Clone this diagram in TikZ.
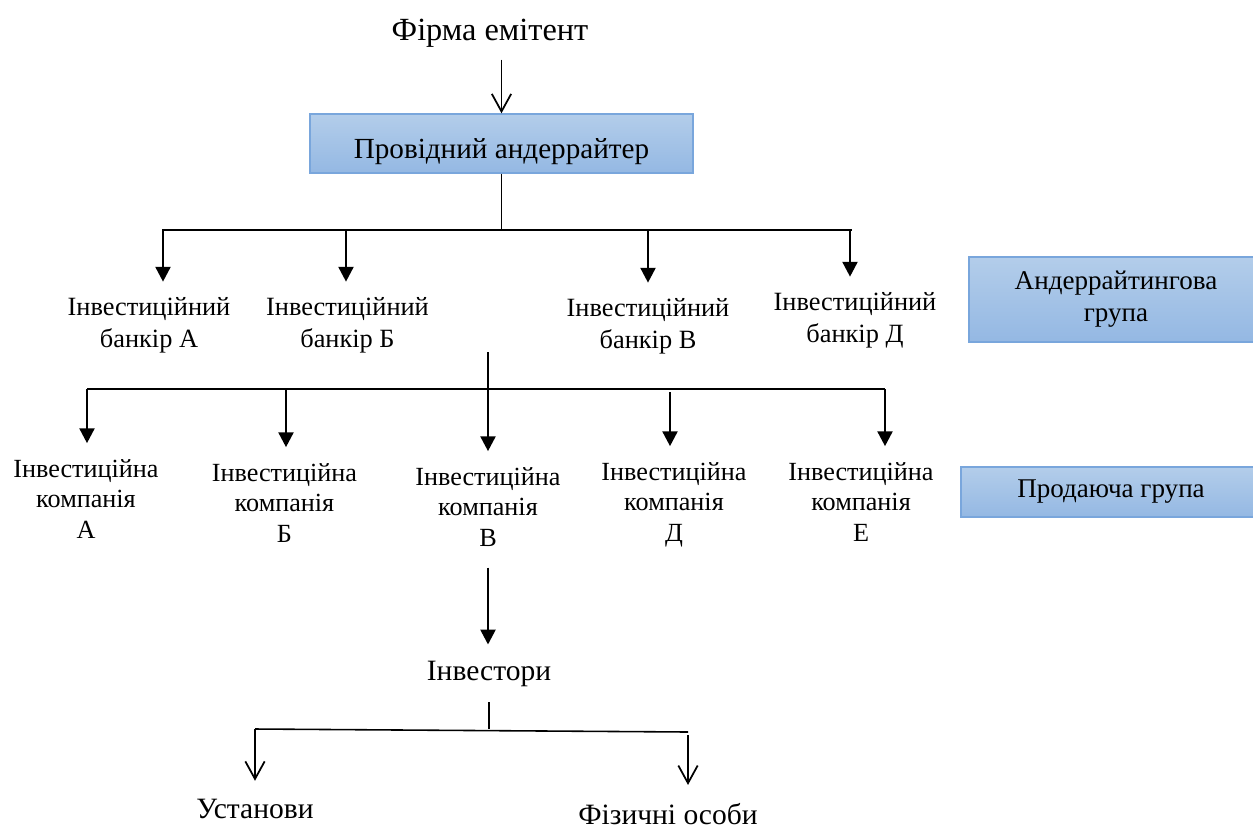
\documentclass[tikz,border=0pt]{standalone}
\usepackage{fontspec}
\setmainfont{Liberation Serif}
\usetikzlibrary{arrows.meta}
\definecolor{boxtop}{RGB}{179,205,234}
\definecolor{boxbottom}{RGB}{148,184,227}
\definecolor{boxline}{RGB}{121,166,220}

\begin{document}
\begin{tikzpicture}[x=0.2mm, y=-0.2mm, bluebox/.style={draw=boxline, line width=0.8pt, top color=boxtop, bottom color=boxbottom, inner sep=0pt, align=center, font=\fontsize{15.4}{18.1}\selectfont}, title/.style={anchor=base, inner sep=0pt, font=\fontsize{16.8}{20}\selectfont}, member/.style={anchor=north, inner sep=0pt, align=center, font=\fontsize{15}{18.1}\selectfont}, firm/.style={member, font=\fontsize{14.9}{17.3}\selectfont}, feed/.style={-{Triangle[length=8.5pt, width=8.5pt]}, line width=1.5pt, shorten >=9pt}, flow/.style={-{Straight Barb[length=10pt, width=11pt]}, line width=1pt}, bus/.style={line width=0.9pt}, stub/.style={line width=0.6pt}]

\useasboundingbox (0,0) rectangle (1253,829);

\node[title, font=\fontsize{18.4}{22}\selectfont] (emitent) at (490,40) {Фірма емітент};
\node[bluebox, minimum width=76.6mm, minimum height=11.8mm, text height=17.6pt, text depth=0pt, font=\fontsize{16.6}{20}\selectfont] (lead) at (501.5,143.5) {Провідний андеррайтер};
\node[bluebox, minimum width=58.8mm, minimum height=17mm] (uwgroup) at (1116,299.5) {Андеррайтингова\\група};
\node[bluebox, minimum width=60mm, minimum height=10mm] (sellgroup) at (1111,492) {Продаюча група};

\node[member] (bankA) at (149,297.5) {Інвестиційний\\банкір А};
\node[member] (bankB) at (347.5,297.5) {Інвестиційний\\банкір Б};
\node[member] (bankV) at (648,298.5) {Інвестиційний\\банкір В};
\node[member] (bankD) at (855,292.5) {Інвестиційний\\банкір Д};

\node[firm] (compA) at (86,459) {Інвестиційна\\компанія\\А};
\node[firm] (compB) at (284.5,463) {Інвестиційна\\компанія\\Б};
\node[firm] (compV) at (488,467) {Інвестиційна\\компанія\\В};
\node[firm] (compD) at (674,462) {Інвестиційна\\компанія\\Д};
\node[firm] (compE) at (861,462) {Інвестиційна\\компанія\\Е};

\node[title] (investors) at (489,680) {Інвестори};
\node[title] (institutions) at (255,818) {Установи};
\node[title] (persons) at (668,824) {Фізичні особи};

\coordinate (ubL) at (162,230);
\coordinate (ubR) at (852,230);
\coordinate (ubA) at (163,230);
\coordinate (ubB) at (346,230);
\coordinate (ubV) at (648,230);
\coordinate (ubD) at (850,230);
\coordinate (sgTop) at (488,352);
\coordinate (sgL) at (87,389);
\coordinate (sgB) at (286,389);
\coordinate (sgD) at (670,392);
\coordinate (sgR) at (885,389);
\coordinate (invL) at (255,729);
\coordinate (invR) at (688,732);
\coordinate (invP) at (688,735);

\draw [flow, shorten <=7pt] (emitent.south -| lead.north) -- (lead.north);
\draw [stub] (lead.south) -- (lead.south |- ubL);
\draw [bus] (ubL) -- (ubR);
\draw [feed] (ubA) -- (ubA |- bankA.north);
\draw [feed] (ubB) -- (ubB |- bankB.north);
\draw [feed] (ubV) -- (ubV |- bankV.north);
\draw [feed] (ubD) -- (ubD |- bankD.north);

\draw [feed] (sgTop) -- (sgTop |- compV.north);
\draw [bus] (sgL) -- (sgR);
\draw [feed] (sgL) -- (sgL |- compA.north);
\draw [feed] (sgB) -- (sgB |- compB.north);
\draw [feed] (sgD) -- (sgD |- compD.north);
\draw [feed] (sgR) -- (sgR |- compE.north);

\draw [feed, shorten <=12pt] (compV.south) -- (compV.south |- investors.north);
\draw [stub, shorten <=9pt] (investors.south) -- (investors.south |- invL);
\draw [bus] (invL) -- (invR);
\draw [flow, shorten >=10pt] (invL) -- (invL |- institutions.north);
\draw [flow, shorten >=10pt] (invP) -- (invP |- persons.north);

\end{tikzpicture}
\end{document}
